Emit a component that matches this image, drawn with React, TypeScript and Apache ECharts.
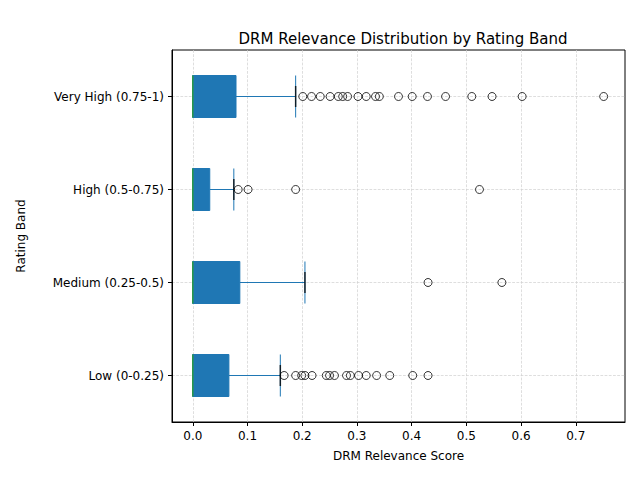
import { useEffect, useRef } from "react";
import * as echarts from "echarts";

const categories = ["Low (0-0.25)", "Medium (0.25-0.5)", "High (0.5-0.75)", "Very High (0.75-1)"];
// [min, Q1, median, Q3, whisker max]
const boxes = [
  [0, 0, 0, 0.066, 0.16],
  [0, 0, 0, 0.086, 0.205],
  [0, 0, 0, 0.031, 0.075],
  [0, 0, 0, 0.079, 0.188],
];
const outliersLow = [0.167, 0.188, 0.199, 0.205, 0.218, 0.244, 0.25, 0.259, 0.281, 0.288, 0.303, 0.317, 0.336, 0.36, 0.402, 0.43];
const outliersMedium = [0.43, 0.565];
const outliersHigh = [0.083, 0.101, 0.188, 0.524];
const outliersVeryHigh = [0.201, 0.217, 0.233, 0.251, 0.266, 0.274, 0.283, 0.302, 0.317, 0.334, 0.341, 0.376, 0.401, 0.429, 0.462, 0.51, 0.547, 0.602, 0.751];
const tickValues = [0, 0.1, 0.2, 0.3, 0.4, 0.5, 0.6, 0.7];

const App = () => {
  const chartRef = useRef<HTMLDivElement>(null);

  useEffect(() => {
    if (!chartRef.current) return;
    const chart = echarts.init(chartRef.current, null, { renderer: "svg" });
    const outlierSets = [outliersLow, outliersMedium, outliersHigh, outliersVeryHigh];
    const outlierData = outlierSets.flatMap((vals, i) => vals.map((v) => [v, i]));
    const capData = boxes.map((b, i) => [b[4], i]);
    const medianData = boxes.map((b, i) => [b[2], i]);
    const font = "DejaVu Sans";
    const gridLine = { color: "#d0d0d0", type: "dashed" as const, width: 0.7 };

    chart.setOption({
      animation: false,
      textStyle: { fontFamily: font },
      title: {
        text: "DRM Relevance Distribution by Rating Band",
        left: 398,
        textAlign: "center",
        top: 26,
        textStyle: { fontSize: 15, fontWeight: "normal", color: "#000", fontFamily: font },
      },
      grid: { left: 172, right: 15, top: 50, bottom: 58, show: true, borderColor: "#000", borderWidth: 1, backgroundColor: "transparent" },
      xAxis: {
        type: "value",
        min: -0.038,
        max: 0.79,
        name: "DRM Relevance Score",
        nameLocation: "middle",
        nameGap: 28,
        nameTextStyle: { fontSize: 12, color: "#000" },
        axisLine: { show: true, onZero: false, lineStyle: { color: "#000" } },
        axisTick: { show: true, customValues: tickValues, length: 4, lineStyle: { color: "#000" } },
        axisLabel: { customValues: tickValues, fontSize: 12, color: "#000", formatter: (v: number) => v.toFixed(1) },
        splitLine: { show: true, lineStyle: gridLine },
      },
      yAxis: {
        type: "category",
        data: categories,
        boundaryGap: true,
        name: "Rating Band",
        nameLocation: "middle",
        nameGap: 145,
        nameTextStyle: { fontSize: 12, color: "#000" },
        axisLine: { show: true, onZero: false, lineStyle: { color: "#000" } },
        axisTick: { show: true, alignWithLabel: true, length: 4, lineStyle: { color: "#000" } },
        axisLabel: { fontSize: 12, color: "#000", margin: 8 },
        splitLine: { show: false },
      },
      series: [
        {
          type: "boxplot",
          data: boxes,
          boxWidth: [42, 42],
          itemStyle: { color: "#1f77b4", borderColor: "#1f77b4", borderWidth: 1 },
          markLine: {
            silent: true,
            symbol: "none",
            label: { show: false },
            lineStyle: gridLine,
            z: 0,
            data: categories.map((c) => ({ yAxis: c })),
          },
        },
        {
          type: "scatter",
          data: medianData,
          symbol: "rect",
          symbolSize: [1.5, 42],
          itemStyle: { color: "#2ca02c" },
          z: 5,
        },
        {
          type: "scatter",
          data: capData,
          symbol: "rect",
          symbolSize: [1.5, 21],
          itemStyle: { color: "#000" },
          z: 5,
        },
        {
          type: "scatter",
          data: outlierData,
          symbol: "circle",
          symbolSize: 8,
          itemStyle: { color: "transparent", borderColor: "#000", borderWidth: 1 },
          z: 6,
        },
      ],
    });

    return () => chart.dispose();
  }, []);

  return <div ref={chartRef} style={{ position: "absolute", left: 0, top: 0, width: 640, height: 480 }} />;
};

export default App;
